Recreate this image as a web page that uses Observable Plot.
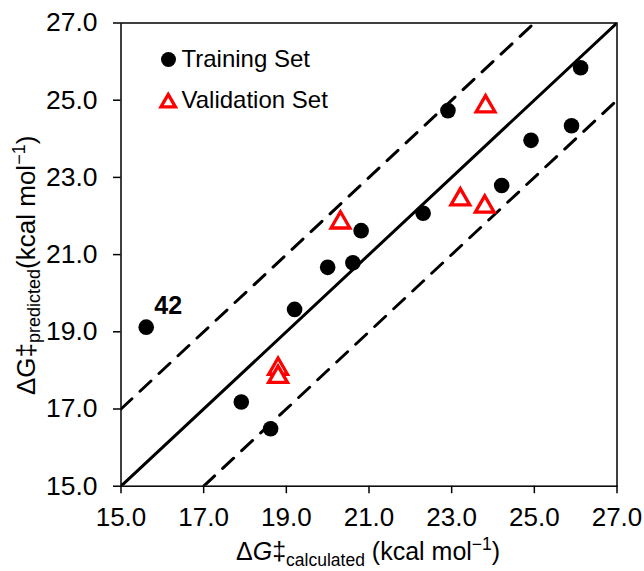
<!DOCTYPE html>
<html>
<head>
<meta charset="utf-8">
<script src="https://cdn.jsdelivr.net/npm/d3@7"></script>
<script src="https://cdn.jsdelivr.net/npm/@observablehq/plot@0.6"></script>
<style>
  html, body { margin: 0; padding: 0; background: #fff; }
  #chart svg { display: block; }
</style>
</head>
<body>
<div id="chart"></div>
<script>
// ---- data ----
const trainX = [15.61, 17.91, 18.62, 19.20, 20.00, 20.61, 20.81, 22.31, 22.91, 24.21, 24.92, 25.90, 26.12];
const trainY = [19.12, 17.18, 16.49, 19.58, 20.67, 20.79, 21.62, 22.07, 24.73, 22.79, 23.96, 24.34, 25.84];
const validX = [18.80, 18.80, 20.31, 23.21, 23.80, 23.82];
const validY = [18.11, 17.90, 21.90, 22.50, 22.31, 24.91];
const labelText = ["42"];
const labelIndex = [0];
const xTicks = [15, 17, 19, 21, 23, 25, 27];
const yTicks = [15, 17, 19, 21, 23, 25, 27];
const parityLine = [[15, 15], [27, 27]];
const upperLine = [[15, 17], [25, 27]];
const lowerLine = [[17, 15], [27, 25]];
const legendNames = ["Training Set", "Validation Set"];

const train = trainX.map((x, i) => ({x, y: trainY[i]}));
const valid = validX.map((x, i) => ({x, y: validY[i]}));
const labels = labelIndex.map((i, k) => ({x: trainX[i], y: trainY[i], text: labelText[k]}));

const FONT = "Arial, 'Liberation Sans', Helvetica, sans-serif";
const fmt = d => d.toFixed(1);

// triangle symbol centred on its bounding box (like the spreadsheet marker)
const triangleSym = {
  draw(ctx, size) {
    const r = Math.sqrt(size / Math.PI);
    const hh = 1.16 * r, hw = 1.34 * r;
    ctx.moveTo(0, -hh);
    ctx.lineTo(hw, hh);
    ctx.lineTo(-hw, hh);
    ctx.closePath();
  }
};

const ml = 120.5, mr = 27.5, mt = 22.5, mb = 85.3;
const DASH = "15,11";

const chart = Plot.plot({
  width: 644,
  height: 571,
  marginLeft: ml,
  marginRight: mr,
  marginTop: mt,
  marginBottom: mb,
  style: {fontFamily: FONT, fontSize: "26px", color: "#000", background: "#fff"},
  x: {domain: [15, 27]},
  y: {domain: [15, 27]},
  marks: [
    Plot.line(parityLine, {x: d => d[0], y: d => d[1], stroke: "#000", strokeWidth: 3, clip: true}),
    Plot.line(upperLine, {x: d => d[0], y: d => d[1], stroke: "#000", strokeWidth: 3, strokeDasharray: DASH, clip: true}),
    Plot.line(lowerLine, {x: d => d[0], y: d => d[1], stroke: "#000", strokeWidth: 3, strokeDasharray: DASH, clip: true}),
    Plot.frame({stroke: "#000", strokeWidth: 1.5}),
    Plot.axisX({ticks: xTicks, tickFormat: fmt, tickSize: 7.5, tickPadding: 13.5, label: null, strokeWidth: 1.5, fontSize: 26}),
    Plot.axisY({ticks: yTicks, tickFormat: fmt, tickSize: 7.5, tickPadding: 16, label: null, strokeWidth: 1.5, fontSize: 26.5}),
    Plot.dot(train, {x: "x", y: "y", r: 7.8, fill: "#000", stroke: "none"}),
    Plot.dot(valid, {x: "x", y: "y", r: 7, symbol: triangleSym, fill: "#fff", stroke: "#ff0000", strokeWidth: 3.3, strokeLinejoin: "miter"}),
    Plot.text(labels, {x: "x", y: "y", text: "text", dx: 22, dy: -21.5, fontWeight: "bold", fontSize: 25, fill: "#000"}),
    // legend
    Plot.dot([legendNames[0]], {frameAnchor: "top-left", dx: 47.5, dy: 36.5, r: 7.5, fill: "#000"}),
    Plot.dot([legendNames[1]], {frameAnchor: "top-left", dx: 47.2, dy: 77.7, r: 5.4, symbol: triangleSym, fill: "#fff", stroke: "#ff0000", strokeWidth: 3.3, strokeLinejoin: "miter"}),
    Plot.text([legendNames[0]], {frameAnchor: "top-left", lineAnchor: "middle", text: d => d, dx: 60.5, dy: 36.3, textAnchor: "start", fontSize: 24, fill: "#000"}),
    Plot.text([legendNames[1]], {frameAnchor: "top-left", lineAnchor: "middle", text: d => d, dx: 60.5, dy: 77.2, textAnchor: "start", fontSize: 24, fill: "#000"})
  ]
});

document.getElementById("chart").appendChild(chart);

// axis titles with subscripts / superscripts
const svg = d3.select(chart);

const xt = svg.append("text")
  .attr("x", 236).attr("y", 560)
  .attr("text-anchor", "start")
  .attr("font-family", FONT).attr("font-size", 25).attr("fill", "#000");
xt.append("tspan").text("\u0394");
xt.append("tspan").attr("font-style", "italic").text("G");
xt.append("tspan").text("\u2021");
xt.append("tspan").attr("font-size", 17.5).attr("dy", 6).text("calculated");
xt.append("tspan").attr("dy", -6).text(" (kcal mol");
xt.append("tspan").attr("font-size", 17.5).attr("dy", -10).text("\u22121");
xt.append("tspan").attr("dy", 10).text(")");

const yt = svg.append("text")
  .attr("transform", "translate(35,395) rotate(-90)")
  .attr("text-anchor", "start")
  .attr("font-family", FONT).attr("font-size", 26).attr("fill", "#000");
yt.append("tspan").text("\u0394G\u2021");
yt.append("tspan").attr("font-size", 18).attr("dy", 4.5).text("predicted");
yt.append("tspan").attr("dy", -4.5).text("(kcal mol");
yt.append("tspan").attr("font-size", 18).attr("dy", -10).text("\u22121");
yt.append("tspan").attr("dy", 10).text(")");
</script>
</body>
</html>
